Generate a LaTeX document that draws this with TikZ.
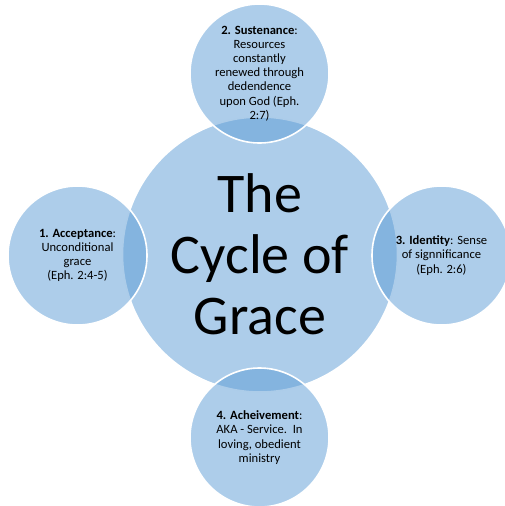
\documentclass[tikz,border=0pt]{standalone}
\usepackage{fontspec}
\setmainfont{Carlito}
\definecolor{accent}{RGB}{91,155,213}
\tikzset{
  blob/.style={circle, inner sep=0pt, fill=accent, fill opacity=0.5, text opacity=1,
    draw=white, line width=1.6pt, align=center, text=black},
  bigc/.style={blob, minimum size=275pt, font=\fontsize{56}{61}\selectfont},
  smallc/.style={blob, minimum size=139pt, font=\fontsize{12.6}{14.2}\selectfont}
}
\begin{document}
\begin{tikzpicture}[x=1pt,y=-1pt]
\useasboundingbox (0,0) rectangle (505,506);
\node[bigc] (core) at (260,254.5) {The\\Cycle of\\Grace};
\node[smallc] (sust) at (259.5,73.5) {\textbf{2. Sustenance}:\\Resources\\constantly\\renewed through\\dedendence\\upon God (Eph.\\2:7)};
\node[smallc] (acc) at (77.5,255.5) {\textbf{1. Acceptance}:\\Unconditional\\grace\\(Eph. 2:4-5)};
\node[smallc] (iden) at (441.5,255.5) {\textbf{3. Identity}: Sense\\of signnificance\\(Eph. 2:6)};
\node[smallc] (ach) at (259.5,437.5) {\textbf{4. Acheivement}:\\AKA - Service.\ \ In\\loving, obedient\\ministry};
\end{tikzpicture}
\end{document}
